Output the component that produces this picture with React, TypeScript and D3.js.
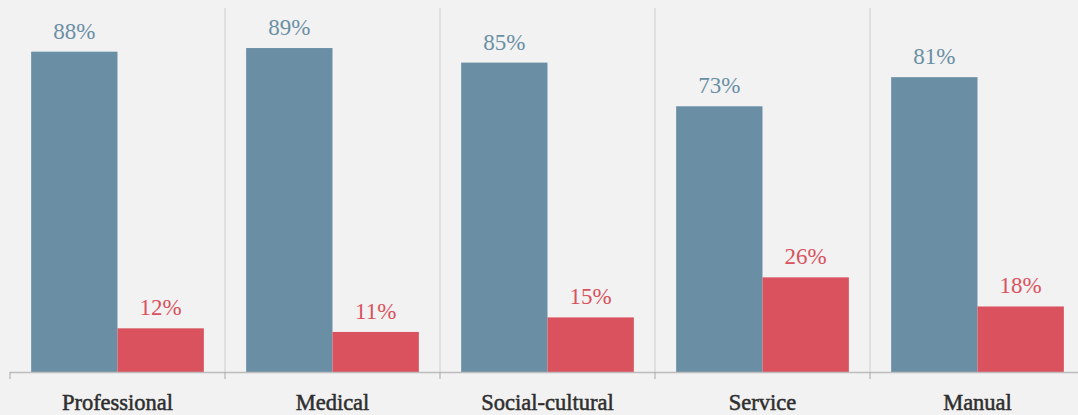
import React, { useEffect } from "react";
import * as d3 from "d3";

const categories = ["Professional", "Medical", "Social-cultural", "Service", "Manual"];
const seriesA = [88, 89, 85, 73, 81];
const seriesB = [12, 11, 15, 26, 18];
const seriesKeys = ["a", "b"];
const colors = ["#6a8fa5", "#d9525e"];

const W = 1078;
const H = 415;
const left = 10;
const bandW = 215;
const baseY = 372;
const topY = 8;

export default function App() {
  useEffect(() => {
    document.body.style.margin = "0";
    document.body.style.background = "#f2f2f2";
  }, []);

  const x = d3
    .scaleBand<string>()
    .domain(categories)
    .range([left, left + bandW * categories.length])
    .paddingInner(0)
    .paddingOuter(0);
  const inner = d3
    .scaleBand<string>()
    .domain(seriesKeys)
    .range([0, x.bandwidth()])
    .paddingOuter(0.245)
    .paddingInner(0);
  const y = d3.scaleLinear().domain([0, 100]).range([baseY, topY]);

  const boundaries = categories.map((c) => x(c)!).concat([left + bandW * categories.length]);
  const font = "'Liberation Serif', 'DejaVu Serif', serif";

  return (
    <svg width={W} height={H} style={{ display: "block", background: "#f2f2f2" }}>
      <rect x={0} y={0} width={W} height={H} fill="#f2f2f2" />
      {boundaries.slice(1).map((bx, i) => (
        <line key={"g" + i} x1={bx} x2={bx} y1={topY} y2={baseY} stroke="#dadada" strokeWidth={1.5} />
      ))}
      {categories.map((c, i) => {
        const vals = [seriesA[i], seriesB[i]];
        return (
          <g key={c}>
            {vals.map((v, j) => {
              const bx = x(c)! + inner(seriesKeys[j])!;
              return (
                <g key={j}>
                  <rect x={bx} y={y(v)} width={inner.bandwidth()} height={baseY - y(v)} fill={colors[j]} />
                  <text
                    x={bx + inner.bandwidth() / 2}
                    y={y(v) - 13}
                    textAnchor="middle"
                    fill={colors[j]}
                    fontFamily={font}
                    fontSize={23}
                  >
                    {v}%
                  </text>
                </g>
              );
            })}
            <text
              x={x(c)! + x.bandwidth() / 2}
              y={410}
              textAnchor="middle"
              fill="#2e2e2e"
              stroke="#2e2e2e"
              strokeWidth={0.5}
              fontFamily={font}
              fontSize={22.5}
            >
              {c}
            </text>
          </g>
        );
      })}
      <line x1={left} x2={W} y1={baseY + 0.5} y2={baseY + 0.5} stroke="#bdbdbd" strokeWidth={1.5} />
      {boundaries.map((bx, i) => (
        <line key={"t" + i} x1={bx} x2={bx} y1={baseY} y2={baseY + 7} stroke="#a8a8a8" strokeWidth={1} />
      ))}
    </svg>
  );
}
